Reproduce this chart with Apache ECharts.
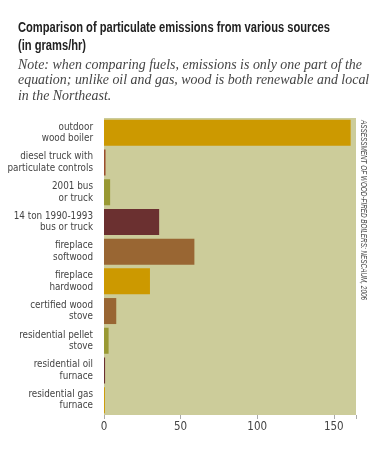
<!DOCTYPE html>
<html>
<head>
<meta charset="utf-8">
<script src="https://cdn.jsdelivr.net/npm/echarts@6/dist/echarts.min.js"></script>
<style>html,body{margin:0;padding:0;background:#fff;}#c{width:384px;height:450px;}</style>
</head>
<body>
<div id="c"></div>
<script>
var categories = [
  'outdoor\nwood boiler',
  'diesel truck with\nparticulate controls',
  '2001 bus\nor truck',
  '14 ton 1990-1993\nbus or truck',
  'fireplace\nsoftwood',
  'fireplace\nhardwood',
  'certified wood\nstove',
  'residential pellet\nstove',
  'residential oil\nfurnace',
  'residential gas\nfurnace'
];
var values = [161, 1, 4, 36, 59, 30, 8, 3, 0.7, 0.6];
var xTicks = [0, 50, 100, 150];
var titleLines = ['Comparison of particulate emissions from various sources', '(in grams/hr)'];
var noteLines = ['Note: when comparing fuels, emissions is only one part of the',
  'equation; unlike oil and gas, wood is both renewable and local',
  'in the Northeast.'];
var sourceText = 'ASSESSMENT OF WOOD-FIRED BOILERS: NESCAUM, 2006';
var barColors = ['#CC9900', '#9B4F2E', '#999933', '#6B3030', '#996633', '#CC9900', '#996633', '#999933', '#6B3030', '#CC9900'];

var sans = '"Liberation Sans", Arial, sans-serif';
var cond = '"DejaVu Sans Condensed", "Liberation Sans Narrow", "Liberation Sans", sans-serif';
var serif = '"Liberation Serif", "DejaVu Serif", serif';

var mctx = document.createElement('canvas').getContext('2d');
function measure(text, font) { mctx.font = font; return mctx.measureText(text).width; }

// horizontal squeeze factors so text spans the reference widths
var titleFont = 'bold 14px ' + sans;
var titleScale = 312 / measure(titleLines[0], titleFont);
var noteFont = 'italic 14.5px ' + serif;
var noteScale = 344 / measure(noteLines[0], noteFont);
var srcFont = 'italic 8.5px ' + sans;
var srcScale = 180 / measure(sourceText, srcFont);

var graphics = [];
titleLines.forEach(function (t, i) {
  graphics.push({type: 'text', x: 18, y: 28 + i * 18, scaleX: titleScale,
    style: {text: t, font: titleFont, fill: '#222', textVerticalAlign: 'middle'}});
});
noteLines.forEach(function (t, i) {
  graphics.push({type: 'text', x: 18, y: 65 + i * 15.5, scaleX: noteScale,
    style: {text: t, font: noteFont, fill: '#444', textVerticalAlign: 'middle'}});
});
graphics.push({type: 'text', x: 359, y: 120, rotation: -Math.PI / 2, scaleX: srcScale,
  style: {text: sourceText, font: srcFont, fill: '#444', textAlign: 'left', textVerticalAlign: 'bottom'}});

var chart = echarts.init(document.getElementById('c'), null, {renderer: 'canvas'});
chart.setOption({
  animation: false,
  backgroundColor: '#ffffff',
  graphic: graphics,
  grid: {left: 104, top: 118, width: 252, height: 297, show: true, backgroundColor: '#CCCC9A', borderWidth: 0,
    containLabel: false, outerBoundsMode: 'none'},
  xAxis: {
    type: 'value', min: 0, max: 164.5, interval: 50,
    splitLine: {show: false},
    axisLine: {show: false},
    axisTick: {show: true, length: 4, lineStyle: {color: '#aaa'}},
    axisLabel: {
      color: '#444', fontSize: 11.5, fontFamily: cond, margin: 6,
      formatter: function (v) { return xTicks.indexOf(v) >= 0 ? String(v) : ''; }
    }
  },
  yAxis: {
    type: 'category', data: categories, inverse: true,
    axisLine: {show: false}, axisTick: {show: false},
    axisLabel: {color: '#444', fontSize: 9.8, lineHeight: 11.5, fontFamily: cond, margin: 11}
  },
  series: [{
    type: 'bar',
    barWidth: 26,
    data: values.map(function (v, i) { return {value: v, itemStyle: {color: barColors[i]}}; })
  }]
});
</script>
</body>
</html>
